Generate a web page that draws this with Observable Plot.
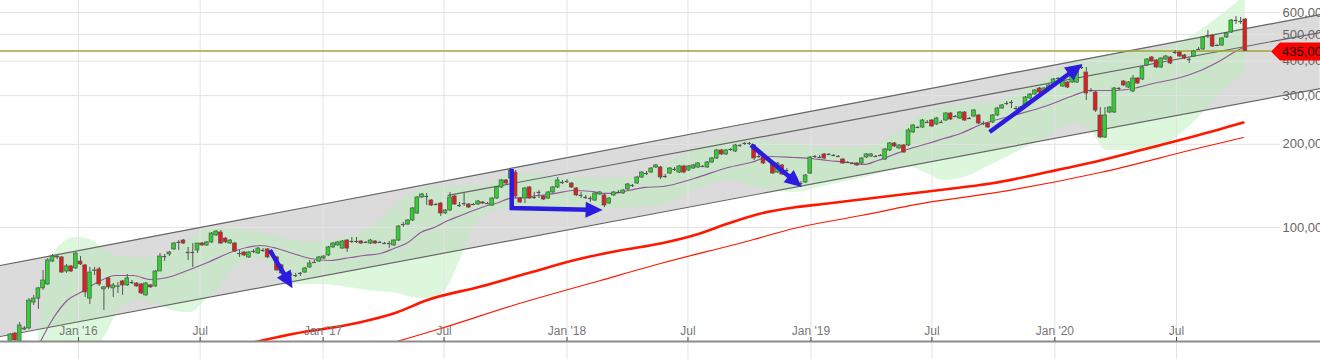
<!DOCTYPE html>
<html><head><meta charset="utf-8">
<script src="https://cdn.jsdelivr.net/npm/d3@7"></script>
<script src="https://cdn.jsdelivr.net/npm/@observablehq/plot@0.6"></script>
<style>
html,body{margin:0;padding:0;background:#fff;overflow:hidden}
#chart svg{display:block}
</style></head><body><div id="chart"></div>
<script>
// ---- weekly candles (first week starts 2015-09-21) ----
const firstWeek = "2015-09-21";
const open = [
38400,41300,38700,42700,43100,53500,55300,60200,62200,75300,
78500,77900,69300,72300,71100,75300,72900,55300,69600,70500,
59700,65400,60200,61000,63800,61700,63200,62700,62200,56800,
61700,61200,69300,78500,79900,83300,88300,89700,81200,81200,
82600,87500,86100,88300,93600,95900,91200,87500,87500,80500,
81200,77900,81900,80500,82600,83300,81200,77900,72900,66500,
67600,67000,68200,68700,71700,74700,75300,77200,79200,84700,
86100,83900,89700,89000,89000,89000,88300,87500,89000,88300,
87500,87500,86100,89700,102500,102500,106000,112400,128400,129500,
125200,121100,122100,112400,115200,129500,120100,122100,121100,121100,
121100,123200,122100,120100,127300,139600,148000,150400,158100,127300,
127300,139600,128400,133900,129500,127300,133900,139600,145500,146700,
144300,138400,130600,128400,127300,125200,131700,130600,122100,130600,
133900,132800,137300,141900,144300,151700,156800,158100,164900,164900,
153000,156800,162200,158100,166300,160800,163500,164900,166300,164900,
171900,177700,190000,183800,191600,188400,198100,201400,201400,198100,
180700,179200,176200,170500,158100,167700,160800,153000,150400,144300,
145500,156800,180700,179200,183800,183800,182200,180700,176200,171900,
170500,170500,170500,179200,180700,180700,182200,176200,190000,201400,
193200,198100,198100,220700,230100,230100,239900,243900,235900,239900,
243900,258600,252200,248000,260700,248000,252200,254300,237900,237900,
239900,254300,269600,281100,283400,269600,265100,276500,293000,302900,
318500,308000,318500,332000,346200,323800,334800,334800,334800,379400,
363900,313200,308000,254300,211700,260700,260700,318500,337600,321100,
310600,346200,343300,385800,412400,402200,379400,405500,412400,429900,
429900,419300,405500,415800,440800,440800,495300,495300,455700,455700,
487100,507900,561300,556600,566000];
const high = [
41300,41700,45300,43800,55300,56800,60700,69900,77200,79900,
79200,78500,73500,72900,81200,78500,73500,71700,71700,71700,
61200,65900,62700,63200,64300,67600,64300,63200,62700,63200,
62200,69900,80500,79900,81900,88300,89700,90500,84700,87500,
87500,88300,89000,95900,97500,97500,92000,90500,88300,82600,
81900,81900,83300,84700,83900,83900,82600,78500,73500,67600,
68700,68200,68700,71700,76000,76000,78500,79200,85400,88300,
89000,89700,90500,92000,92000,89700,89000,90500,89700,89000,
88300,89000,90500,101700,104300,106900,118100,129500,132800,132800,
126300,122100,123200,116200,133900,130600,123200,132800,122100,122100,
125200,124200,123200,128400,140700,149200,149200,163500,160800,128400,
139600,140700,133900,136100,130600,135000,140700,151700,148000,149200,
145500,139600,133900,130600,129500,133900,135000,131700,128400,135000,
136100,137300,144300,143100,153000,159500,159500,164900,169100,166300,
155500,164900,164900,167700,167700,167700,169100,171900,167700,173300,
179200,191600,191600,191600,193200,199700,199700,203100,203100,199700,
183800,180700,177700,171900,171900,169100,163500,155500,153000,146700,
155500,180700,182200,182200,185300,185300,183800,182200,177700,173300,
171900,171900,179200,185300,185300,182200,183800,193200,203100,203100,
199700,199700,228200,236000,232000,246000,243900,246000,250100,243900,
260700,260700,254300,262900,262900,250100,267300,256400,241900,239900,
256400,271800,278800,285800,288200,274100,274100,297900,305500,315800,
321100,321100,329300,346200,349000,340400,337600,363900,382600,385800,
379400,318500,310600,271800,271800,274100,321100,321100,340400,337600,
354900,349000,382600,408900,415800,405500,412400,419300,415800,437100,
433500,422800,412400,437100,448200,491200,516400,499500,459600,487100,
507900,566000,580300,575500,570700];
const low = [
37700,38400,38000,42400,42700,52200,50500,59200,61700,74700,
76600,68200,68200,68700,70500,72900,55800,52700,67000,61200,
50100,59700,55800,57700,56800,61200,62200,60700,57200,56300,
60200,60700,69300,75300,78500,82600,82600,86800,76000,71700,
80500,85400,85400,87500,92800,86800,87500,86800,81200,77900,
78500,77200,80500,79900,81200,77200,80500,69300,67600,65400,
66500,65900,66500,68200,71100,74100,74700,76600,78500,83900,
85400,83300,81200,87500,87500,86800,87500,86800,86800,87500,
86800,83900,85400,89000,100000,101700,105100,111500,127300,120100,
119100,120100,109600,111500,114300,120100,118100,119100,117200,120100,
120100,121100,121100,119100,126300,138400,143100,149200,127300,122100,
122100,126300,126300,127300,125200,126300,132800,138400,143100,144300,
138400,129500,127300,126300,123200,124200,130600,118100,121100,129500,
132800,131700,136100,139600,143100,150400,154200,156800,163500,149200,
150400,155500,159500,156800,156800,159500,162200,163500,164900,163500,
170500,176200,182200,182200,188400,186800,194800,198100,198100,174800,
177700,169100,173300,155500,156800,154200,158100,150400,146700,141900,
144300,155500,177700,177700,176200,182200,180700,179200,169100,170500,
169100,166300,169100,177700,179200,179200,180700,174800,188400,194800,
191600,185300,196400,218900,228200,228200,237900,230100,234000,237900,
241900,243900,250100,246000,241900,246000,250100,235900,234000,228200,
237900,252200,267300,276500,269600,265100,262900,274100,290600,300400,
305500,305500,315800,329300,340400,321100,318500,332000,332000,373100,
288200,308000,260700,209900,209900,258600,258600,313200,323800,318500,
308000,329300,340400,382600,395500,376200,376200,402200,389000,422800,
412400,405500,392200,412400,437100,437100,483100,448200,451900,451900,
483100,503700,542900,542900,433500];
const close = [
41000,39000,44200,43100,54400,55300,60200,64300,76000,78500,
77900,68700,72300,69300,80500,73500,58200,68700,69900,62200,
60700,60700,61700,61200,61700,65400,63200,61200,57700,62700,
60700,69300,78500,78500,81200,87500,88300,87500,81200,81200,
87500,86100,88300,95100,96700,87500,88300,89700,81900,80500,
79200,81200,81900,83900,82600,77900,81200,69900,68200,66500,
67600,67000,68200,71100,74100,74700,77900,78500,84700,87500,
88300,89000,83900,89000,89000,87500,88300,89700,87500,88300,
87500,87500,89700,100800,102500,106000,117200,128400,131700,129500,
120100,121100,112400,115200,128400,121100,120100,122100,118100,121100,
124200,122100,122100,127300,139600,148000,144300,160800,129500,123200,
138400,127300,128400,133900,126300,133900,139600,148000,145500,146700,
139600,130600,130600,128400,127300,132800,133900,120100,127300,133900,
133900,136100,143100,141900,151700,158100,156800,163500,167700,151700,
153000,163500,162200,166300,158100,166300,167700,170500,166300,171900,
177700,190000,183800,190000,191600,198100,198100,201400,201400,177700,
180700,170500,176200,156800,170500,155500,160800,153000,150400,144300,
154200,179200,180700,179200,177700,183800,182200,180700,170500,171900,
170500,167700,177700,183800,183800,180700,182200,191600,201400,196400,
198100,186800,224400,234000,230100,243900,239900,232000,248000,239900,
258600,246000,252200,260700,243900,248000,265100,237900,237900,230100,
254300,269600,276500,281100,283400,269600,271800,295500,302900,313200,
308000,318500,326500,343300,346200,337600,321100,360900,379400,379400,
305500,313200,265100,211700,254300,271800,318500,318500,326500,334800,
346200,332000,379400,405500,398800,379400,408900,415800,392200,429900,
415800,408900,405500,433500,440800,487100,495300,451900,455700,483100,
503700,561300,561300,556600,435000];

// ---- moving average (purple) ----
const maDates = ["2015-11-02","2015-11-24","2015-12-15","2016-01-04","2016-01-29","2016-02-25","2016-03-23","2016-04-17","2016-05-13","2016-06-12","2016-07-12","2016-08-15","2016-09-09","2016-09-29","2016-10-24","2016-11-17","2016-12-13","2017-01-12","2017-02-11","2017-03-03","2017-03-28","2017-04-17","2017-05-08","2017-05-27","2017-06-16","2017-07-07","2017-07-26","2017-08-14","2017-09-04","2017-09-21","2017-10-06","2017-10-27","2017-11-20","2017-12-15","2018-01-09","2018-02-08","2018-02-23","2018-03-10","2018-04-03","2018-04-28","2018-05-24","2018-07-10","2018-08-30","2018-10-03","2018-11-02","2018-12-06","2019-01-01","2019-01-26","2019-02-25","2019-03-21","2019-04-11","2019-05-05","2019-05-30","2019-06-25","2019-07-19","2019-08-13","2019-09-12","2019-10-31","2019-12-21","2020-01-29","2020-02-23","2020-03-28","2020-04-27","2020-05-27","2020-07-07","2020-08-06","2020-09-05","2020-09-30","2020-10-12"];
const maValues = [37400,46840,54430,58180,63230,67040,67040,64830,65920,69890,74700,81190,84650,86070,83940,80520,77230,75960,77880,79190,80520,83940,88250,95920,100000,106000,110500,115200,120100,123200,127300,128400,130600,132800,136100,135000,132800,132800,136100,139600,140700,150400,164900,171900,180700,179200,177700,174800,171900,169100,174800,183800,193200,201400,209900,218900,235900,254300,276500,300400,313200,313200,318500,332000,349000,370000,402200,437100,451900];

// ---- envelope band (green) ----
const bandDates = ["2015-11-02","2015-11-20","2015-12-08","2015-12-27","2016-01-19","2016-02-10","2016-03-03","2016-04-02","2016-05-02","2016-05-25","2016-06-16","2016-07-09","2016-07-31","2016-08-22","2016-09-14","2016-10-06","2016-10-29","2016-11-20","2016-12-20","2017-01-15","2017-02-11","2017-03-06","2017-03-28","2017-04-22","2017-05-16","2017-06-10","2017-07-03","2017-07-26","2017-08-17","2017-09-08","2017-10-01","2017-11-04","2017-12-25","2018-02-12","2018-04-03","2018-05-21","2018-07-09","2018-08-29","2018-10-17","2018-12-06","2019-01-26","2019-03-16","2019-05-04","2019-05-30","2019-06-24","2019-07-18","2019-08-13","2019-09-26","2019-11-10","2019-12-25","2020-01-31","2020-02-23","2020-03-19","2020-05-23","2020-07-07","2020-08-06","2020-09-05","2020-10-12"];
const bandUpper = [40660,74700,87520,92000,90480,82560,78530,77230,78530,83940,91240,98350,100000,99170,96720,95120,92000,89730,88250,89730,92770,97530,106000,122100,133900,139600,140700,141900,141900,143100,153000,156800,151700,150400,151700,166300,190000,206500,206500,201400,194800,194800,215300,239900,260700,271800,278800,281100,308000,352000,395500,408900,419300,437100,467300,516400,585000,691000];
const bandLower = [35900,35900,35900,35900,35900,40660,50920,54430,52210,49660,49250,54430,61670,71650,77230,75960,66480,62190,62190,61670,60650,59160,58670,57700,55800,55340,59160,77230,102500,113300,117200,113300,113300,115200,118100,120100,136100,148000,139600,133900,141900,150400,160800,164900,156800,148000,150400,167700,190000,215300,239900,224400,190000,190000,217100,254300,305500,363900];

// ---- long moving averages (red) ----
const redThickDates = ["2016-08-30","2016-11-20","2017-02-17","2017-04-21","2017-06-04","2017-08-25","2017-11-07","2018-01-16","2018-03-21","2018-05-21","2018-07-19","2018-08-30","2018-10-18","2018-12-06","2019-01-26","2019-03-17","2019-05-05","2019-06-25","2019-08-13","2019-09-27","2019-12-25","2020-03-09","2020-05-18","2020-08-01","2020-10-09"];
const redThickValues = [37400,41340,44930,49250,54430,61160,68730,76590,82560,87520,95120,103400,112400,118100,122100,126300,130600,135000,139600,144300,159500,174800,193200,215300,239900];
const redThinDates = ["2017-04-01","2017-06-26","2017-10-12","2018-02-20","2018-05-21","2018-10-02","2018-12-06","2019-03-17","2019-06-25","2019-09-27","2020-03-09","2020-08-01","2020-10-09"];
const redThinValues = [37400,43100,52210,64300,74080,89730,99170,110500,123200,132800,158100,193200,211700];

// ---- trend channel ----
const channelDates = ["2015-09-06","2021-02-01"];
const channelUpper = [72860, 590100];
const channelLower = [40320, 318500];
const midLineDates = ["2017-07-07","2021-02-01"];
const midLineValues = [130600, 507900];

// ---- annotation arrows ----
const arrowDates = [["2016-10-14","2016-11-17"],["2017-10-11","2017-10-11","2018-02-24"],["2018-10-04","2018-12-19"],["2019-09-26","2020-02-12"]];
const arrowValues = [[82500,60000],[162000,117200,115200],[198100,139600],[220700,389000]];

// ---- axes ----
const xDomain = ["2015-09-06T07:00:00Z","2021-02-01T11:00:00Z"];
const yDomain = [38670, 663100];
const xTicks = ["2016-01-01","2016-07-01","2017-01-01","2017-07-01","2018-01-01","2018-07-01","2019-01-01","2019-07-01","2020-01-01","2020-07-01"];
const xTickLabels = ["Jan '16","Jul","Jan '17","Jul","Jan '18","Jul","Jan '19","Jul","Jan '20","Jul"];
const yTicks = [100000,200000,300000,400000,500000,600000];
const lastPrice = 435000;

// ---- build tables ----
const candles = open.map((o, i) => ({
  date: d3.utcDay.offset(new Date(firstWeek), 7 * i),
  open: o, high: high[i], low: low[i], close: close[i]
}));
const rows = (ds, ...cols) => ds.map((d, i) => Object.assign({date: new Date(d)}, ...cols.map(([k, v]) => ({[k]: v[i]}))));
const ma = rows(maDates, ["v", maValues]);
const band = rows(bandDates, ["hi", bandUpper], ["lo", bandLower]);
const redThick = rows(redThickDates, ["v", redThickValues]);
const redThin = rows(redThinDates, ["v", redThinValues]);
const channel = rows(channelDates, ["hi", channelUpper], ["lo", channelLower]);
const midLine = rows(midLineDates, ["v", midLineValues]);

const bx1 = d => d3.utcHour.offset(d.date, -68);
const bx2 = d => d3.utcHour.offset(d.date, 68);
const up = candles.filter(d => d.close > d.open);
const down = candles.filter(d => d.close < d.open);
const flat = candles.filter(d => d.close === d.open);
const wick = "#555";

const plot = Plot.plot({
  width: 1320, height: 359,
  marginTop: 0, marginRight: 0, marginBottom: 18, marginLeft: 0,
  style: {fontFamily: "'Liberation Sans', Arial, sans-serif", background: "#fff"},
  x: {type: "utc", domain: xDomain.map(d => new Date(d)), axis: null},
  y: {type: "log", domain: yDomain, axis: null},
  marks: [
    Plot.areaY(channel, {x: "date", y1: "lo", y2: "hi", fill: "#b8b8b8", fillOpacity: 0.5}),
    Plot.areaY(band, {x: "date", y1: "lo", y2: "hi", fill: "#b9f0b9", fillOpacity: 0.5, curve: "monotone-x", clip: true}),
    Plot.ruleX(xTicks, {x: d => new Date(d), stroke: "#e3e3e3", insetBottom: -18}),
    Plot.ruleY(yTicks, {y: d => d, stroke: "#e3e3e3", insetRight: 40}),
    Plot.line(channel, {x: "date", y: "hi", stroke: "#666", strokeWidth: 1.2}),
    Plot.line(channel, {x: "date", y: "lo", stroke: "#666", strokeWidth: 1.2}),
    Plot.line(midLine, {x: "date", y: "v", stroke: "#666", strokeWidth: 1.2}),
    Plot.line(redThick, {x: "date", y: "v", stroke: "#ff1800", strokeWidth: 2.6, curve: "monotone-x", clip: true}),
    Plot.line(redThin, {x: "date", y: "v", stroke: "#ff1800", strokeWidth: 1.2, curve: "monotone-x", clip: true}),
    Plot.line(ma, {x: "date", y: "v", stroke: "#935a9c", strokeWidth: 1.2, curve: "monotone-x", clip: true}),
    Plot.ruleY([lastPrice], {y: d => d, stroke: "#a4a23a", strokeWidth: 1.5, insetRight: 49}),
    Plot.ruleX(candles, {x: "date", y1: "low", y2: "high", stroke: wick, strokeWidth: 1, clip: true}),
    Plot.rect(up, {x1: bx1, x2: bx2, y1: "open", y2: "close", fill: "#2ed12e", stroke: wick, strokeWidth: 0.7, clip: true}),
    Plot.rect(down, {x1: bx1, x2: bx2, y1: "open", y2: "close", fill: "#e41c1c", stroke: wick, strokeWidth: 0.7, clip: true}),
    Plot.ruleY(flat, {x1: bx1, x2: bx2, y: "close", stroke: wick, strokeWidth: 1.2, clip: true}),
    Plot.ruleY([yDomain[0]], {y: d => d, stroke: "#8c8c8c", strokeWidth: 2}),
    Plot.ruleX(xTicks, {x: d => new Date(d), stroke: "#444", insetTop: 337}),
    Plot.text(xTicks, {x: d => new Date(d), text: (d, i) => xTickLabels[i], frameAnchor: "bottom", lineAnchor: "bottom", dy: -7, fontSize: 12, fill: "#777"}),
    Plot.text(yTicks, {y: d => d, text: d => d3.format(",")(d), frameAnchor: "right", textAnchor: "start", dx: -38, fontSize: 13, fill: "#666"})
  ]
});

// ---- overlay: arrows and price tag, positioned through Plot's scales ----
const sx = plot.scale("x"), sy = plot.scale("y");
const g = d3.select(plot).append("g");
const blue = "#2d1ce0";
arrowDates.forEach((ds, k) => {
  const pts = ds.map((d, i) => [sx.apply(new Date(d)), sy.apply(arrowValues[k][i])]);
  const [xa, ya] = pts[pts.length - 2], [xb, yb] = pts[pts.length - 1];
  const a = Math.atan2(yb - ya, xb - xa), L = 17, W = 8;
  const c = Math.cos(a), s = Math.sin(a);
  const shaft = pts.slice(0, -1).concat([[xb - (L - 3) * c, yb - (L - 3) * s]]);
  g.append("path").attr("d", d3.line()(shaft)).attr("fill", "none").attr("stroke", blue)
    .attr("stroke-width", 4.5).attr("stroke-linejoin", "miter");
  const bxp = xb - L * c, byp = yb - L * s;
  g.append("path").attr("d", `M${xb},${yb}L${bxp - W * s},${byp + W * c}L${bxp + W * s},${byp - W * c}Z`).attr("fill", blue);
});
const ty = sy.apply(lastPrice) + 1;
g.append("path").attr("d", `M1271,${ty}L1280,${ty - 9}L1320,${ty - 9}L1320,${ty + 9}L1280,${ty + 9}Z`).attr("fill", "#ff0000");
g.append("text").attr("x", 1282).attr("y", ty + 4.8).attr("font-size", 13).attr("fill", "#111")
  .attr("text-anchor", "start")
  .attr("font-family", "'Liberation Sans', Arial, sans-serif").text(d3.format(",")(lastPrice));

document.getElementById("chart").append(plot);
</script>
</body></html>
